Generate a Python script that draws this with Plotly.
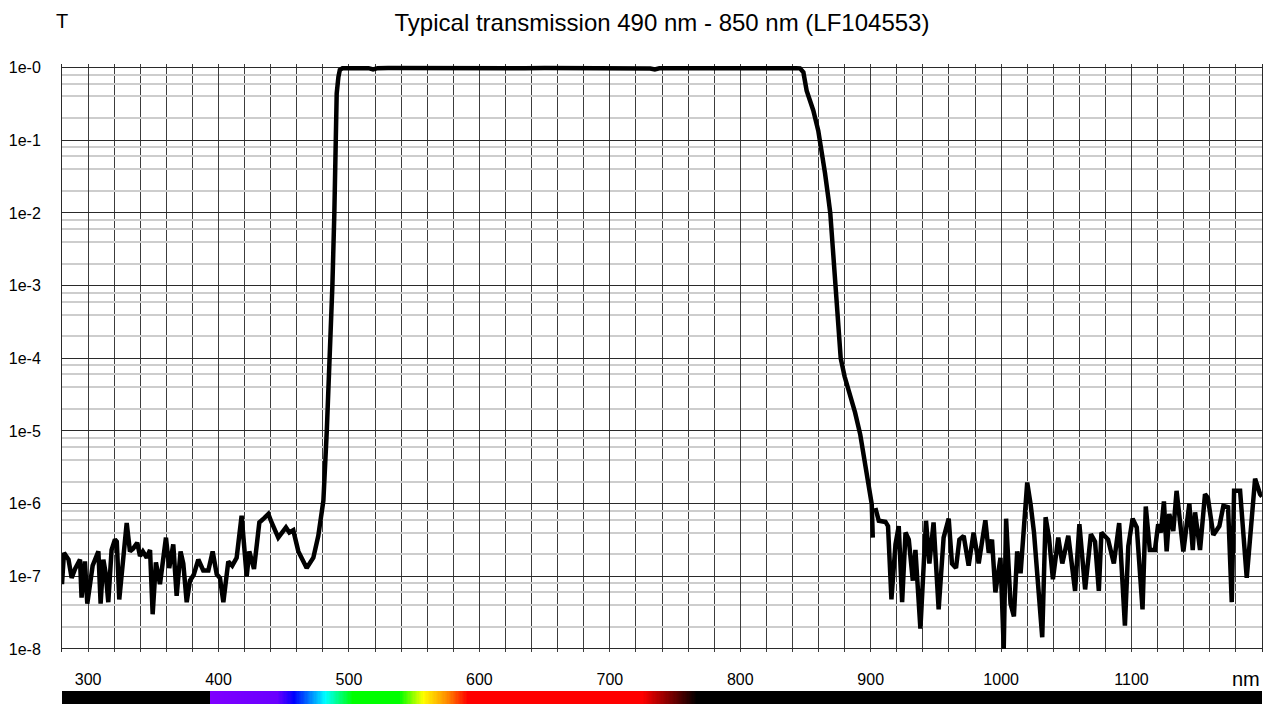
import plotly.graph_objects as go

# Wavelength (nm) and transmission of the filter curve
wavelength = [
    280.0, 281.5, 285.0, 287.4, 290.0, 292.5, 293.8, 295.0, 297.6, 299.4,
    301.5, 303.5, 307.9, 309.6, 311.7, 313.5, 315.5, 318.0, 320.6, 322.0,
    323.9, 326.5, 329.6, 332.1, 334.5, 337.7, 339.8, 342.0, 345.0, 347.5,
    349.5, 352.0, 355.1, 359.7, 362.2, 365.3, 367.9, 370.9, 373.0, 375.6,
    378.1, 381.0, 384.5, 388.3, 392.2, 395.5, 398.6, 401.1, 403.7, 407.5,
    410.5, 413.9, 417.7, 421.6, 423.6, 427.2, 431.3, 435.0, 438.2, 440.7,
    445.8, 451.7, 454.3, 457.3, 461.2, 467.6, 472.7, 476.5, 478.8, 480.4,
    483.0, 485.5, 487.3, 488.8, 489.8, 490.6, 491.9, 493.0, 495.0, 500.0,
    505.0, 510.0, 515.0, 518.5, 522.0, 530.0, 545.0, 560.0, 575.0, 590.0,
    605.0, 620.0, 635.0, 650.0, 665.0, 680.0, 695.0, 710.0, 725.0, 731.0,
    734.5, 738.0, 745.0, 760.0, 775.0, 790.0, 805.0, 820.0, 835.0, 843.0,
    845.8, 848.4, 850.9, 853.5, 856.0, 859.8, 862.4, 865.0, 867.5, 869.0,
    871.0, 873.0, 875.0, 877.0, 880.0, 884.0, 888.0, 892.0, 895.5, 898.3,
    900.8, 901.6, 902.6, 903.6, 906.2, 911.3, 913.3, 915.9, 919.0, 921.5,
    924.1, 926.7, 929.2, 932.3, 934.3, 938.1, 942.4, 945.0, 948.2, 952.1,
    955.9, 959.8, 962.3, 965.4, 968.0, 971.3, 975.1, 978.9, 982.8, 987.9,
    990.5, 993.0, 995.6, 999.5, 1002.0, 1003.8, 1007.2, 1009.8, 1012.3, 1014.9,
    1020.0, 1022.6, 1025.2, 1031.5, 1034.1, 1036.7, 1039.7, 1043.8, 1046.9, 1051.5,
    1056.7, 1060.0, 1064.4, 1068.8, 1072.0, 1074.9, 1076.9, 1082.0, 1086.4, 1090.5,
    1094.9, 1097.5, 1100.8, 1104.0, 1108.4, 1110.9, 1114.0, 1117.9, 1120.4, 1122.5,
    1124.8, 1126.9, 1128.9, 1132.0, 1134.5, 1139.7, 1144.3, 1146.9, 1148.7, 1152.5,
    1156.3, 1158.5, 1162.7, 1167.3, 1170.4, 1174.0, 1176.8, 1178.6, 1183.2, 1188.3,
    1194.7, 1198.5, 1200.0,
]

transmission = [
    7.8e-8, 2.1e-7, 1.7e-7, 9.5e-8, 1.26e-7, 1.6e-7, 1.7e-7, 5.1e-8, 1.6e-7, 4.2e-8,
    9.1e-8, 1.4e-7, 2.2e-7, 4.2e-8, 1.7e-7, 1.1e-7, 4.4e-8, 2.3e-7, 3.2e-7, 3.0e-7,
    4.8e-8, 1.6e-7, 5.4e-7, 2.2e-7, 2.4e-7, 2.9e-7, 1.9e-7, 2.2e-7, 1.8e-7, 2.3e-7,
    3.0e-8, 1.55e-7, 7.8e-8, 3.4e-7, 1.3e-7, 2.75e-7, 5.4e-8, 2.2e-7, 1.5e-7, 4.4e-8,
    8.7e-8, 1.05e-7, 1.7e-7, 1.2e-7, 1.2e-7, 2.2e-7, 1.07e-7, 9.5e-8, 4.4e-8, 1.6e-7,
    1.4e-7, 1.8e-7, 6.8e-7, 1.0e-7, 2.2e-7, 1.26e-7, 5.5e-7, 6.3e-7, 7.2e-7, 5.5e-7,
    3.4e-7, 4.7e-7, 4.0e-7, 4.3e-7, 2.2e-7, 1.3e-7, 1.8e-7, 3.6e-7, 7.1e-7, 1.1e-6,
    1.0e-5, 1.0e-4, 1.0e-3, 1.0e-2, 0.1, 0.44, 0.74, 0.93, 0.975, 0.98,
    0.985, 0.98, 0.98, 0.94, 0.98, 0.985, 0.98, 0.985, 0.98, 0.985,
    0.98, 0.985, 0.98, 0.985, 0.98, 0.985, 0.98, 0.985, 0.98, 0.97,
    0.94, 0.975, 0.98, 0.985, 0.98, 0.985, 0.98, 0.985, 0.98, 0.98,
    0.975, 0.86, 0.48, 0.355, 0.257, 0.135, 0.072, 0.035, 0.0162, 0.01,
    3.2e-3, 1.0e-3, 2.5e-4, 1.0e-4, 5.6e-5, 3.2e-5, 1.8e-5, 8.9e-6, 3.5e-6, 2.0e-6,
    9.8e-7, 3.4e-7, None, 8.7e-7, 5.8e-7, 5.6e-7, 4.9e-7, 4.8e-8, 2.75e-7, 4.9e-7,
    4.4e-8, 4.0e-7, 3.2e-7, 8.7e-8, 2.3e-7, 1.9e-8, 5.8e-7, 1.5e-7, 5.5e-7, 3.5e-8,
    3.4e-7, 6.2e-7, 1.5e-7, 1.3e-7, 3.2e-7, 3.6e-7, 1.4e-7, 4.0e-7, 1.5e-7, 5.9e-7,
    2.1e-7, 3.2e-7, 6.0e-8, 1.8e-7, 1.0e-8, 6.2e-7, 4.2e-8, 2.8e-8, 2.2e-7, 1.1e-7,
    1.95e-6, 9.8e-7, 4.0e-7, 1.45e-8, 6.5e-7, 3.4e-7, 9.1e-8, 3.4e-7, 1.5e-7, 3.6e-7,
    6.3e-8, 5.2e-7, 6.6e-8, 3.8e-7, 3.0e-7, 6.3e-8, 4.0e-7, 3.2e-7, 1.5e-7, 5.4e-7,
    2.1e-8, 2.6e-7, 6.2e-7, 4.7e-7, 3.5e-8, 9.1e-7, 2.3e-7, 2.3e-7, 5.2e-7, 4.0e-7,
    1.07e-6, 2.2e-7, 7.2e-7, 4.2e-7, 1.5e-6, 2.2e-7, 1.0e-6, 2.3e-7, 7.6e-7, 2.3e-7,
    1.35e-6, 1.2e-6, 3.7e-7, 4.9e-7, 9.3e-7, 8.9e-7, 4.4e-8, 1.5e-6, 1.5e-6, 9.5e-8,
    2.2e-6, 1.35e-6, 1.25e-6,
]

# Axis ticks
x_tick_values = [300, 400, 500, 600, 700, 800, 900, 1000, 1100]
x_tick_labels = ["300", "400", "500", "600", "700", "800", "900", "1000", "1100"]
y_tick_values = [1e0, 1e-1, 1e-2, 1e-3, 1e-4, 1e-5, 1e-6, 1e-7, 1e-8]
y_tick_labels = ["1e-0", "1e-1", "1e-2", "1e-3", "1e-4", "1e-5", "1e-6", "1e-7", "1e-8"]
y_minor_values = [m * 10.0 ** e for e in range(-8, 0) for m in (2, 4, 6, 8)]

# Spectrum strip under the axis (wavelength -> colour)
spectrum_nm = list(range(280, 1201))
spectrum_stops = [
    (280, "#000000"), (393, "#000000"), (394, "#7f00ff"), (445, "#6a00ff"),
    (458, "#0000ff"), (482, "#00ffff"), (503, "#00ff00"), (539, "#00ff00"),
    (557, "#ffff00"), (575, "#ff8c00"), (591, "#ff0000"), (725, "#ff0000"),
    (767, "#000000"), (1200, "#000000"),
]

FONT = "Liberation Sans, Arial, sans-serif"
W, H = 1269, 710
M_TOP, M_LEFT, M_RIGHT = 64, 62, 7
PLOT_H = H - M_TOP
S = H / 704.0                       # vertical page scale
DECADE_PX = 72.625 * S
y_top_px, y_one_px = 64.0, 67.0 * S          # plot top, 1e0 line
y_min_px, y_bot_px = 648.0 * S, 657.0        # 1e-8 line, plot bottom
pad_top = (y_one_px - y_top_px) / DECADE_PX
pad_bot = (y_bot_px - y_min_px) / DECADE_PX
bar_top_px = 690.0 * S


def paper_y(px):
    return (H - px) / PLOT_H


fig = go.Figure()

lo, hi = spectrum_stops[0][0], spectrum_stops[-1][0]
fig.add_trace(go.Heatmap(
    x=spectrum_nm, y=[0], z=[spectrum_nm],
    zmin=lo, zmax=hi,
    colorscale=[[(w - lo) / (hi - lo), c] for w, c in spectrum_stops],
    showscale=False, hoverinfo="skip", xaxis="x", yaxis="y2",
))

fig.add_trace(go.Scatter(
    x=wavelength, y=transmission, mode="lines",
    line=dict(color="#000000", width=4.5, shape="linear"),
    connectgaps=False, showlegend=False,
))

fig.update_layout(
    width=W, height=H,
    margin=dict(l=M_LEFT, r=M_RIGHT, t=M_TOP, b=0, pad=0),
    paper_bgcolor="white", plot_bgcolor="white",
    font=dict(family=FONT, color="#000000", size=16),
    showlegend=False,
    title=dict(
        text="Typical transmission 490 nm - 850 nm (LF104553)",
        x=(M_LEFT + 600) / W, xanchor="center",
        y=1 - 22.2 / H, yanchor="middle",
        font=dict(family=FONT, size=24, color="#000000"),
    ),
    xaxis=dict(
        range=[280, 1200], anchor="y",
        tickmode="array", tickvals=x_tick_values, ticktext=x_tick_labels,
        ticks="", ticklabelstandoff=16,
        tickfont=dict(size=16),
        showgrid=True, gridcolor="#3c3c3c", gridwidth=1,
        minor=dict(tick0=280, dtick=20, showgrid=True, gridcolor="#3c3c3c",
                   gridwidth=1, ticks=""),
        showline=False, zeroline=False,
    ),
    yaxis=dict(
        type="log", range=[-8 - pad_bot, 0 + pad_top],
        domain=[paper_y(y_bot_px), 1],
        tickmode="array", tickvals=y_tick_values, ticktext=y_tick_labels,
        ticks="", ticklabelstandoff=17,
        tickfont=dict(size=16),
        showgrid=True, gridcolor="#2a2a2a", gridwidth=1,
        minor=dict(tickvals=y_minor_values, showgrid=True,
                   gridcolor="#cdcdcd", gridwidth=1.5, ticks=""),
        showline=True, mirror=True, linecolor="#2a2a2a", linewidth=1,
        zeroline=False,
    ),
    yaxis2=dict(
        domain=[0, paper_y(bar_top_px)], range=[-0.5, 0.5], anchor="x",
        showgrid=False, showticklabels=False, zeroline=False, showline=False,
    ),
    annotations=[
        dict(text="T", xref="paper", yref="paper", x=0, y=paper_y(20.2 * S),
             xanchor="center", yanchor="middle", showarrow=False,
             font=dict(family=FONT, size=20, color="#000000")),
        dict(text="nm", xref="paper", yref="paper", x=(1245.5 - M_LEFT) / 1200,
             y=paper_y(678.0 * S), xanchor="center", yanchor="middle",
             showarrow=False, font=dict(family=FONT, size=20, color="#000000")),
    ],
)

fig.write_html("out.html")
